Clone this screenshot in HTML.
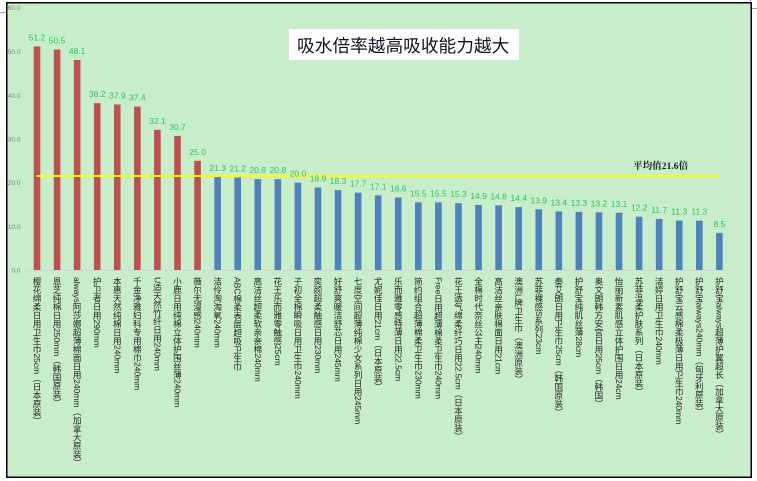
<!DOCTYPE html>
<html><head><meta charset="utf-8">
<style>
html,body{margin:0;padding:0;background:#fff;}
#c{position:relative;width:757px;height:481px;overflow:hidden;background:#fff;}
svg{position:absolute;left:0;top:0;}
.lb{position:absolute;top:277px;width:10px;writing-mode:vertical-rl;text-orientation:mixed;font-family:"Liberation Sans","Noto Sans CJK SC",sans-serif;font-size:8.6px;line-height:10px;color:#222;white-space:nowrap;letter-spacing:-0.1px;}
</style></head><body><div id="c">
<svg width="757" height="481" viewBox="0 0 757 481" xmlns="http://www.w3.org/2000/svg">
<line x1="0" y1="12.5" x2="6" y2="12.5" stroke="#999" stroke-width="1"/>
<line x1="752" y1="8.5" x2="757" y2="8.5" stroke="#999" stroke-width="1"/>
<line x1="750.5" y1="0" x2="750.5" y2="2" stroke="#999" stroke-width="1"/>
<rect x="6.75" y="2.75" width="744.5" height="474.5" fill="#c7edcb" stroke="#000" stroke-width="1.5"/>
<g font-family="Liberation Sans, sans-serif" font-size="6.6" fill="#7f7f7f" text-anchor="end">
<text x="20.5" y="10">60.0</text>
<text x="20.5" y="54">50.0</text>
<text x="20.5" y="98">40.0</text>
<text x="20.5" y="141.5">30.0</text>
<text x="20.5" y="185">20.0</text>
<text x="20.5" y="229">10.0</text>
<text x="20.5" y="272.5">0.0</text>
</g>
<line x1="27" y1="270.5" x2="729" y2="270.5" stroke="#d4d4d4" stroke-width="1"/>
<g fill="#c0504d">
<rect x="33.7" y="46.41" width="6.6" height="223.59"/>
<rect x="53.77" y="49.47" width="6.6" height="220.53"/>
<rect x="73.84" y="59.95" width="6.6" height="210.05"/>
<rect x="93.91" y="103.18" width="6.6" height="166.82"/>
<rect x="113.98" y="104.49" width="6.6" height="165.51"/>
<rect x="134.05" y="106.67" width="6.6" height="163.33"/>
<rect x="154.12" y="129.82" width="6.6" height="140.18"/>
<rect x="174.19" y="135.93" width="6.6" height="134.07"/>
<rect x="194.26" y="160.82" width="6.6" height="109.18"/>
</g>
<g fill="#4f81bd">
<rect x="214.33" y="176.98" width="6.6" height="93.02"/>
<rect x="234.4" y="177.42" width="6.6" height="92.58"/>
<rect x="254.47" y="179.17" width="6.6" height="90.83"/>
<rect x="274.54" y="179.17" width="6.6" height="90.83"/>
<rect x="294.61" y="182.66" width="6.6" height="87.34"/>
<rect x="314.68" y="187.46" width="6.6" height="82.54"/>
<rect x="334.75" y="190.08" width="6.6" height="79.92"/>
<rect x="354.82" y="192.70" width="6.6" height="77.30"/>
<rect x="374.89" y="195.32" width="6.6" height="74.68"/>
<rect x="394.96" y="197.51" width="6.6" height="72.49"/>
<rect x="415.03" y="202.31" width="6.6" height="67.69"/>
<rect x="435.1" y="202.31" width="6.6" height="67.69"/>
<rect x="455.17" y="203.18" width="6.6" height="66.82"/>
<rect x="475.24" y="204.93" width="6.6" height="65.07"/>
<rect x="495.31" y="205.37" width="6.6" height="64.63"/>
<rect x="515.38" y="207.12" width="6.6" height="62.88"/>
<rect x="535.45" y="209.30" width="6.6" height="60.70"/>
<rect x="555.52" y="211.48" width="6.6" height="58.52"/>
<rect x="575.59" y="211.92" width="6.6" height="58.08"/>
<rect x="595.66" y="212.36" width="6.6" height="57.64"/>
<rect x="615.73" y="212.79" width="6.6" height="57.21"/>
<rect x="635.8" y="216.72" width="6.6" height="53.28"/>
<rect x="655.87" y="218.91" width="6.6" height="51.09"/>
<rect x="675.94" y="220.65" width="6.6" height="49.35"/>
<rect x="696.01" y="220.65" width="6.6" height="49.35"/>
<rect x="716.08" y="232.88" width="6.6" height="37.12"/>
</g>
<line x1="36.5" y1="176" x2="719.5" y2="176" stroke="#ffff00" stroke-width="2"/>
<g font-family="Liberation Sans, sans-serif" font-size="8.5" fill="#2ec45a" text-anchor="middle">
<text x="37" y="40.4">51.2</text>
<text x="57.07" y="43.5">50.5</text>
<text x="77.14" y="54">48.1</text>
<text x="97.21" y="97.2">38.2</text>
<text x="117.28" y="98.5">37.9</text>
<text x="137.35" y="100.7">37.4</text>
<text x="157.42" y="123.8">32.1</text>
<text x="177.49" y="129.9">30.7</text>
<text x="197.56" y="154.8">25.0</text>
<text x="217.63" y="171">21.3</text>
<text x="237.7" y="171.4">21.2</text>
<text x="257.77" y="173.2">20.8</text>
<text x="277.84" y="173.2">20.8</text>
<text x="297.91" y="176.7">20.0</text>
<text x="317.98" y="181.5">18.9</text>
<text x="338.05" y="184.1">18.3</text>
<text x="358.12" y="186.7">17.7</text>
<text x="378.19" y="189.3">17.1</text>
<text x="398.26" y="191.5">16.6</text>
<text x="418.33" y="196.3">15.5</text>
<text x="438.4" y="196.3">15.5</text>
<text x="458.47" y="197.2">15.3</text>
<text x="478.54" y="198.9">14.9</text>
<text x="498.61" y="199.4">14.8</text>
<text x="518.68" y="201.1">14.4</text>
<text x="538.75" y="203.3">13.9</text>
<text x="558.82" y="205.5">13.4</text>
<text x="578.89" y="205.9">13.3</text>
<text x="598.96" y="206.4">13.2</text>
<text x="619.03" y="206.8">13.1</text>
<text x="639.1" y="210.7">12.2</text>
<text x="659.17" y="212.9">11.7</text>
<text x="679.24" y="214.6">11.3</text>
<text x="699.31" y="214.6">11.3</text>
<text x="719.38" y="226.9">8.5</text>
</g>
<text x="633" y="169" font-family="Liberation Serif, Noto Serif CJK SC, serif" font-weight="bold" font-size="9.6" fill="#222">平均值21.6倍</text>
<rect x="289" y="29" width="230" height="31" fill="#fff"/>
<text x="297" y="52" font-family="Liberation Sans, Noto Sans CJK SC, sans-serif" font-size="17.7" fill="#111122">吸水倍率越高吸收能力越大</text>
</svg>
<div class="lb" style="left:32px">樱花绵柔日用卫生巾25cm（日本原装）</div>
<div class="lb" style="left:52.07px">恩芝纯棉日用250mm（韩国原装）</div>
<div class="lb" style="left:72.14px">always阿莎娜超薄棉面日用240mm（加拿大原装）</div>
<div class="lb" style="left:92.21px">护卫者日用290mm</div>
<div class="lb" style="left:112.28px">本惠天然纯棉日用240mm</div>
<div class="lb" style="left:132.35px">千金净雅妇科专用棉巾240mm</div>
<div class="lb" style="left:152.42px">U适天然竹纤日用240mm</div>
<div class="lb" style="left:172.49px">小鹿日用纯棉立体护围丝薄240mm</div>
<div class="lb" style="left:192.56px">薇尔无漫感240mm</div>
<div class="lb" style="left:212.63px">洁伶淘淘氧240mm</div>
<div class="lb" style="left:232.7px">ABC棉柔表层超吸卫生巾</div>
<div class="lb" style="left:252.77px">高洁丝超柔软亲亲棉240mm</div>
<div class="lb" style="left:272.84px">花王乐而雅零触感25cm</div>
<div class="lb" style="left:292.91px">子初全棉瞬吸日用卫生巾240mm</div>
<div class="lb" style="left:312.98px">奕颜超柔触感日用230mm</div>
<div class="lb" style="left:333.05px">好舒爽暖洁舒芯日用245mm</div>
<div class="lb" style="left:353.12px">七度空间超薄纯棉少女系列日用245mm</div>
<div class="lb" style="left:373.19px">尤妮佳日用21cm（日本原装）</div>
<div class="lb" style="left:393.26px">乐而雅零感特薄日用22.5cm</div>
<div class="lb" style="left:413.33px">简约组合超薄棉柔卫生巾230mm</div>
<div class="lb" style="left:433.4px">Free日用超薄棉柔卫生巾240mm</div>
<div class="lb" style="left:453.47px">花王透气绵柔纤巧日用22.5cm（日本原装）</div>
<div class="lb" style="left:473.54px">全棉时代奈丝公主240mm</div>
<div class="lb" style="left:493.61px">高洁丝亲肤棉面日用21cm</div>
<div class="lb" style="left:513.68px">澳洲L牌卫生巾（澳洲原装）</div>
<div class="lb" style="left:533.75px">苏菲裸感S系列23cm</div>
<div class="lb" style="left:553.82px">秦艾朗日用卫生巾25cm（韩国原装）</div>
<div class="lb" style="left:573.89px">护舒宝纯肌丝薄28cm</div>
<div class="lb" style="left:593.96px">奥文朗韩方安宫日用25cm（韩国）</div>
<div class="lb" style="left:614.03px">怡丽新素肌感立体护围日用24cm</div>
<div class="lb" style="left:634.1px">苏菲温柔护肤系列（日本原装）</div>
<div class="lb" style="left:654.17px">洁婷日用卫生巾240mm</div>
<div class="lb" style="left:674.24px">护舒宝云感棉柔极薄日用卫生巾240mm</div>
<div class="lb" style="left:694.31px">护舒宝always240mm（匈牙利原装）</div>
<div class="lb" style="left:714.38px">护舒宝always超薄护翼超长（加拿大原装）</div>
</div></body></html>
